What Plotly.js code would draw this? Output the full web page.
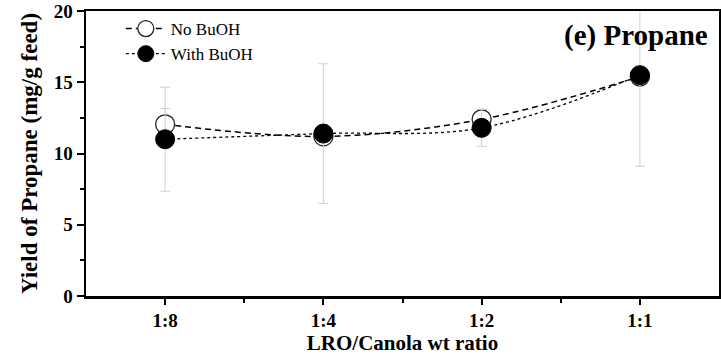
<!DOCTYPE html>
<html><head><meta charset="utf-8">
<script src="https://cdn.plot.ly/plotly-3.0.1.min.js"></script>
<style>html,body{margin:0;padding:0;background:#fff}#chart{width:721px;height:355px}</style>
</head><body><div id="chart"></div>
<script>
const categories = ['1:8', '1:4', '1:2', '1:1'];
const noBuOH = [12.05, 11.2, 12.4, 15.4];
const noBuOHErr = [1.1, 0.0, 0.7, 0.0];
const withBuOH = [11.0, 11.4, 11.8, 15.5];
const withBuOHErr = [3.65, 4.9, 1.3, 6.4];
const yTicks = [0, 5, 10, 15, 20];

const xs = categories.map((c, i) => i);
const font = 'Liberation Serif, Times New Roman, serif';

const traces = [
  {
    x: xs, y: noBuOH, name: 'No BuOH', type: 'scatter', mode: 'lines+markers',
    line: {color: '#000', width: 1.5, dash: '6px,4px', shape: 'spline'},
    marker: {symbol: 'circle', size: 19, color: '#fff', line: {color: '#222', width: 1.3}},
    error_y: {type: 'data', array: noBuOHErr, visible: true, color: '#cfcfcf', thickness: 1, width: 5}
  },
  {
    x: xs, y: withBuOH, name: 'With BuOH', type: 'scatter', mode: 'lines+markers',
    line: {color: '#000', width: 1.3, dash: 'dot', shape: 'spline'},
    marker: {symbol: 'circle', size: 19, color: '#000', line: {color: '#000', width: 1}},
    error_y: {type: 'data', array: withBuOHErr, visible: true, color: '#cfcfcf', thickness: 1, width: 5}
  }
];

const layout = {
  width: 721, height: 355,
  margin: {l: 86, r: 2, t: 11, b: 59},
  paper_bgcolor: '#fff', plot_bgcolor: '#fff',
  font: {family: font, color: '#000'},
  showlegend: true,
  legend: {
    x: 0.055, y: 1.0, xanchor: 'left', yanchor: 'top',
    traceorder: 'normal', bgcolor: 'rgba(0,0,0,0)',
    font: {family: font, size: 17, color: '#000'},
    itemwidth: 40, tracegroupgap: 0
  },
  xaxis: {
    range: [-0.5, 3.5],
    tickvals: xs, ticktext: categories,
    ticks: 'outside', ticklen: 6, tickwidth: 2, tickcolor: '#000',
    minor: {tickvals: [0.5, 1.5, 2.5], ticks: 'outside', ticklen: 4, tickwidth: 2, tickcolor: '#000'},
    showline: true, linewidth: 2.5, linecolor: '#000', mirror: true,
    showgrid: false, zeroline: false,
    tickfont: {family: font, size: 19, color: '#000', weight: 'bold'},
    title: {text: '<b>LRO/Canola wt ratio</b>', font: {family: font, size: 21, color: '#000'}, standoff: 2}
  },
  yaxis: {
    range: [0, 20],
    tickvals: yTicks,
    ticks: 'outside', ticklen: 7, tickwidth: 2, tickcolor: '#000',
    minor: {dtick: 2.5, tick0: 0, ticks: 'outside', ticklen: 4, tickwidth: 2, tickcolor: '#000'},
    showline: true, linewidth: 2.5, linecolor: '#000', mirror: true,
    showgrid: false, zeroline: false,
    tickfont: {family: font, size: 19, color: '#000', weight: 'bold'},
    title: {text: '<b>Yield of Propane (mg/g feed)</b>', font: {family: font, size: 23, color: '#000'}, standoff: 10}
  },
  annotations: [{
    xref: 'paper', yref: 'paper', x: 0.985, y: 0.98, xanchor: 'right', yanchor: 'top',
    text: '<b>(e) Propane</b>', showarrow: false,
    font: {family: font, size: 29, color: '#000'}
  }]
};

Plotly.newPlot('chart', traces, layout, {displayModeBar: false, staticPlot: true});
</script>
</body></html>
